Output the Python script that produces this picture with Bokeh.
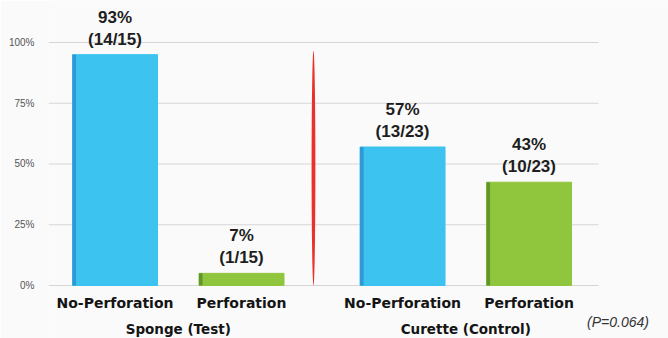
from bokeh.plotting import figure
from bokeh.models import ColumnDataSource, FixedTicker, Range1d
from bokeh.core.properties import value
from bokeh.embed import file_html
from bokeh.resources import INLINE

# ---- data ----
groups = ["Sponge (Test)", "Curette (Control)"]
outcomes = ["No-Perforation", "Perforation"]
bar_heights = [95, 5, 57, 42.5]          # drawn bar heights (%)
pct_labels = [93, 7, 57, 43]             # printed percentages
counts = [14, 1, 13, 10]
totals = [15, 15, 23, 23]
y_ticks = [0, 25, 50, 75, 100]
p_value = "(P=0.064)"

# ---- layout (positions in category units) ----
group_gap = 1.273
xs = [0, 1, 1 + group_gap, 2 + group_gap]
bar_w = 0.672
colors = ["#3cc3ef", "#90c63e", "#3cc3ef", "#90c63e"]
edge = ["#2b86c9", "#4d8224", "#2b86c9", "#4d8224"]
shade_w = 0.028

labels = [f"{p}%\n({c}/{t})" for p, c, t in zip(pct_labels, counts, totals)]
src = ColumnDataSource(dict(x=xs, top=bar_heights, color=colors, edge=edge,
                            xl=[x - bar_w / 2 + shade_w / 2 for x in xs],
                            label=labels, cat=outcomes * 2))

x_start = -0.5257
x_end = x_start + 620 / 126.5
y_start, y_end = -21.81, 117.28

p = figure(width=668, height=338, output_backend="svg", toolbar_location=None,
           x_range=Range1d(x_start, x_end), y_range=Range1d(y_start, y_end),
           min_border_left=48, min_border_right=0, min_border_top=0,
           min_border_bottom=0, outline_line_color=None,
           background_fill_color="#fafafb", border_fill_color="#fafafb")

p.xaxis.visible = False
p.xgrid.visible = False
p.ygrid.visible = False
yax = p.yaxis[0]
yax.ticker = FixedTicker(ticks=y_ticks)
yax.major_label_overrides = {t: f"{t}%" for t in y_ticks}
yax.axis_line_color = None
yax.major_tick_line_color = None
yax.minor_tick_line_color = None
yax.major_label_standoff = 8
yax.major_label_text_font = "Liberation Sans"
yax.major_label_text_font_size = "10px"
yax.major_label_text_color = "#555555"

# grid lines (end before P-value area)
grid_end = 3.822
p.segment(x0=[x_start] * len(y_ticks), x1=[grid_end] * len(y_ticks),
          y0=y_ticks, y1=y_ticks, line_color="#d6d6d8", line_width=1.2)

# bars
p.vbar(x="x", top="top", bottom=0, width=bar_w, fill_color="color",
       line_color="color", line_width=1, source=src)
p.vbar(x="xl", top="top", bottom=0, width=shade_w, fill_color="edge",
       fill_alpha=0.7, line_color=None, source=src)

# red divider
div_x = xs[1] + 0.569
p.ellipse(x=[div_x], y=[48.3], width=[0.03], height=[96.6],
          fill_color="#e8322b", line_color=None)

# value labels
p.text(x="x", y="top", text="label", source=src, text_align="center",
       text_baseline="bottom", y_offset=-6, text_line_height=1.15,
       text_font=value("Liberation Sans"), text_font_style="bold",
       text_font_size="17px", text_color="#1e1e1e")

# category labels
p.text(x="x", y=-7.0, text="cat", source=src, text_align="center",
       text_baseline="middle", text_font=value("DejaVu Sans"),
       text_font_style="bold", text_font_size="14px", text_color="#141414")

# group labels
gx = [(xs[0] + xs[1]) / 2, (xs[2] + xs[3]) / 2]
p.text(x=gx, y=[-18.1, -18.1], text=groups, text_align="center",
       text_baseline="middle", text_font=value("DejaVu Sans"),
       text_font_style="bold", text_font_size="13.5px", text_color="#141414")

# p-value
p.text(x=[grid_end - 0.09], y=[-15.2], text=[p_value], text_align="left",
       text_baseline="middle", text_font=value("Liberation Sans"),
       text_font_style="italic", text_font_size="14px", text_color="#333333")

open("out.html", "w").write(file_html(p, INLINE))
